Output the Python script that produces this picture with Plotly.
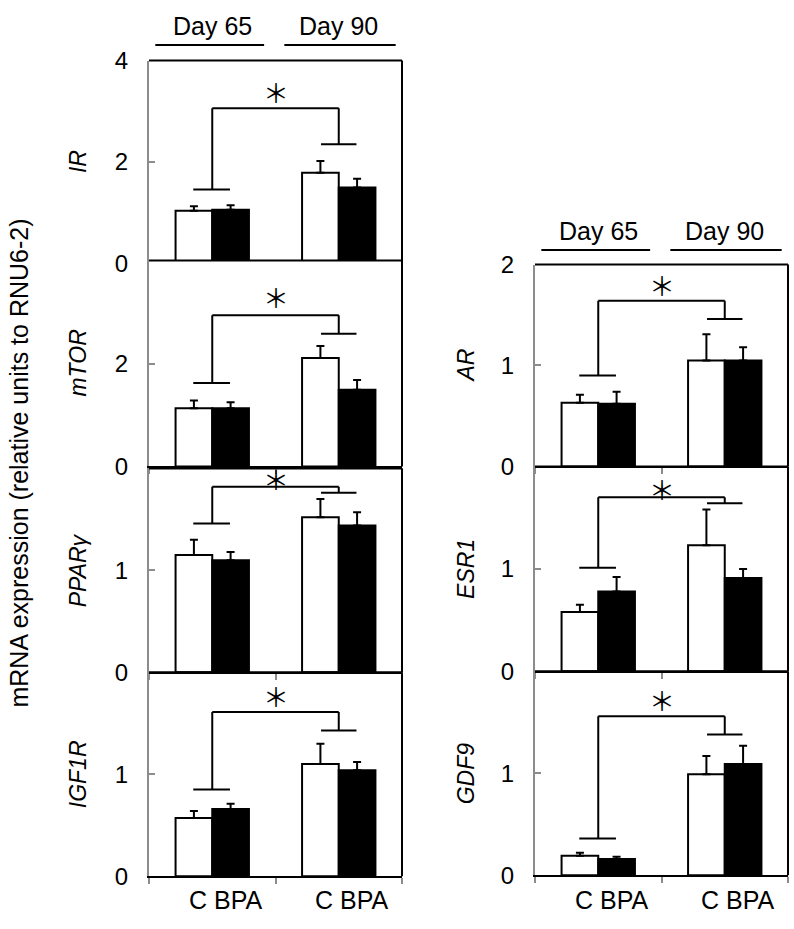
import plotly.graph_objects as go

# ---------------- data ----------------
genes = ["IR", "mTOR", "PPARγ", "IGF1R", "AR", "ESR1", "GDF9"]
days = ["Day 65", "Day 90"]
group_labels = ["C BPA", "C BPA"]

c_mean = [[1.04, 1.79], [1.13, 2.11], [1.15, 1.52], [0.57, 1.10], [0.63, 1.05], [0.58, 1.23], [0.19, 0.99]]
c_err = [[0.09, 0.23], [0.15, 0.23], [0.15, 0.18], [0.07, 0.20], [0.08, 0.26], [0.07, 0.35], [0.03, 0.18]]
bpa_mean = [[1.06, 1.50], [1.13, 1.49], [1.10, 1.44], [0.66, 1.04], [0.62, 1.05], [0.78, 0.91], [0.16, 1.09]]
bpa_err = [[0.09, 0.17], [0.12, 0.19], [0.08, 0.13], [0.05, 0.08], [0.12, 0.13], [0.14, 0.09], [0.02, 0.18]]

# significance brackets: top level, left foot, right foot, asterisk level
br_top = [3.06, 2.94, 1.82, 1.61, 1.64, 1.70, 1.56]
br_left = [1.46, 1.62, 1.46, 0.85, 0.90, 1.01, 0.36]
br_right = [2.35, 2.58, 1.76, 1.43, 1.46, 1.64, 1.38]
star_y = [3.40, 3.30, 1.90, 1.77, 1.80, 1.78, 1.72]

y_max = [4, 4, 2, 2, 2, 2, 2]
y_ticks = [[0, 2, 4], [0, 2], [0, 1], [0, 1], [0, 1, 2], [0, 1], [0, 1]]

y_title = "mRNA expression (relative units to RNU6-2)"

# ---------------- layout geometry (pixels) ----------------
W, H = 794, 929
col_x = {0: (149, 402), 1: (535, 788)}
panel_col = [0, 0, 0, 0, 1, 1, 1]
panel_y = [(48, 257), (254, 466), (468, 678), (678, 888), (258, 466), (466, 677), (677, 887)]

FONT = "Liberation Sans, Arial, sans-serif"
FS_TICK = 24
FS_TEXT = 25
FS_GENE = 23

def px_x(p):
    return p / W

def px_y(p):
    return 1 - p / H

fig = go.Figure()
layout = dict(
    width=W, height=H, margin=dict(l=0, r=0, t=0, b=0),
    paper_bgcolor="white", plot_bgcolor="white", showlegend=False,
    barmode="group", bargap=0.42, bargroupgap=0.0,
    font=dict(family=FONT, size=FS_TICK, color="black"),
)
shapes = []
annotations = []

for i, g in enumerate(genes):
    n = i + 1
    xa = "x" if n == 1 else f"x{n}"
    ya = "y" if n == 1 else f"y{n}"
    xs = [0, 1]
    fig.add_trace(go.Bar(
        x=xs, y=c_mean[i], xaxis=xa, yaxis=ya,
        marker=dict(color="white", line=dict(color="black", width=2)),
        error_y=dict(type="data", symmetric=False, array=c_err[i], arrayminus=[0, 0],
                     color="black", thickness=2, width=4),
    ))
    fig.add_trace(go.Bar(
        x=xs, y=bpa_mean[i], xaxis=xa, yaxis=ya,
        marker=dict(color="black", line=dict(color="black", width=2)),
        error_y=dict(type="data", symmetric=False, array=bpa_err[i], arrayminus=[0, 0],
                     color="black", thickness=2, width=4),
    ))
    cx0, cx1 = col_x[panel_col[i]]
    py0, py1 = panel_y[i]
    layout["xaxis" if n == 1 else f"xaxis{n}"] = dict(
        domain=[px_x(cx0), px_x(cx1)], range=[-0.5, 1.5], anchor=ya,
        showline=True, linecolor="black", linewidth=2,
        ticks="outside", tickvals=[-0.5, 0.5, 1.5], ticklen=6, tickcolor="#8c8c8c", tickwidth=2,
        showticklabels=False, showgrid=False, zeroline=False, fixedrange=True,
    )
    layout["yaxis" if n == 1 else f"yaxis{n}"] = dict(
        domain=[px_y(py1), px_y(py0)], range=[0, y_max[i]], anchor=xa,
        showline=True, linecolor="#8c8c8c", linewidth=2,
        ticks="inside", tickvals=y_ticks[i], ticklen=6, tickcolor="#8c8c8c", tickwidth=2,
        tickfont=dict(size=FS_TICK), ticklabelstandoff=14,
        showgrid=False, zeroline=False, fixedrange=True,
    )
    # frame: top and right edges
    shapes.append(dict(type="line", xref=f"{xa} domain", yref=f"{ya} domain",
                       x0=0, x1=1, y0=1, y1=1, line=dict(color="black", width=2)))
    shapes.append(dict(type="line", xref=f"{xa} domain", yref=f"{ya} domain",
                       x0=1, x1=1, y0=0, y1=1, line=dict(color="black", width=2)))
    # significance bracket
    bl = dict(color="black", width=2)
    shapes.append(dict(type="line", xref=xa, yref=ya, x0=0, x1=1, y0=br_top[i], y1=br_top[i], line=bl))
    shapes.append(dict(type="line", xref=xa, yref=ya, x0=0, x1=0, y0=br_left[i], y1=br_top[i], line=bl))
    shapes.append(dict(type="line", xref=xa, yref=ya, x0=1, x1=1, y0=br_right[i], y1=br_top[i], line=bl))
    shapes.append(dict(type="line", xref=xa, yref=ya, x0=-0.15, x1=0.14, y0=br_left[i], y1=br_left[i], line=bl))
    shapes.append(dict(type="line", xref=xa, yref=ya, x0=0.86, x1=1.14, y0=br_right[i], y1=br_right[i], line=bl))
    annotations.append(dict(xref=xa, yref=ya, x=0.5, y=star_y[i], text="＊", showarrow=False,
                            font=dict(size=26, family="Noto Sans CJK JP"),
                            xanchor="center", yanchor="middle"))
    # gene label
    gx = 78 if panel_col[i] == 0 else 466
    annotations.append(dict(xref="paper", yref="paper", x=px_x(gx), y=px_y((py0 + py1) / 2),
                            text=f"<i>{g}</i>", textangle=-90, showarrow=False,
                            font=dict(size=FS_GENE), xanchor="center", yanchor="middle"))

# day headers above top panel of each column, group labels below bottom panel
for col, top_axis, bot_axis, head_y in [(0, "x", "x4", 32), (1, "x5", "x7", 243)]:
    for d, (u0, u1) in enumerate([(-0.45, 0.41), (0.57, 1.45)]):
        shapes.append(dict(type="line", xref=top_axis, yref="paper", x0=u0, x1=u1,
                           y0=px_y(head_y), y1=px_y(head_y), line=dict(color="black", width=2)))
        annotations.append(dict(xref=top_axis, yref="paper", x=d, y=px_y(head_y - 3),
                                text=days[d], showarrow=False, xanchor="center", yanchor="bottom",
                                font=dict(size=FS_TEXT)))
        annotations.append(dict(xref=bot_axis, yref="paper", x=d, y=px_y(913), xshift=13,
                                text=group_labels[d], showarrow=False, xanchor="center", yanchor="middle",
                                font=dict(size=FS_TEXT)))

annotations.append(dict(xref="paper", yref="paper", x=px_x(19), y=px_y(463), text=y_title,
                        textangle=-90, showarrow=False, xanchor="center", yanchor="middle",
                        font=dict(size=FS_TEXT)))

layout["shapes"] = shapes
layout["annotations"] = annotations
fig.update_layout(**layout)
fig.write_html("out.html", config={"displayModeBar": False},
               post_script="document.body.style.margin='0';document.body.style.padding='0';")
